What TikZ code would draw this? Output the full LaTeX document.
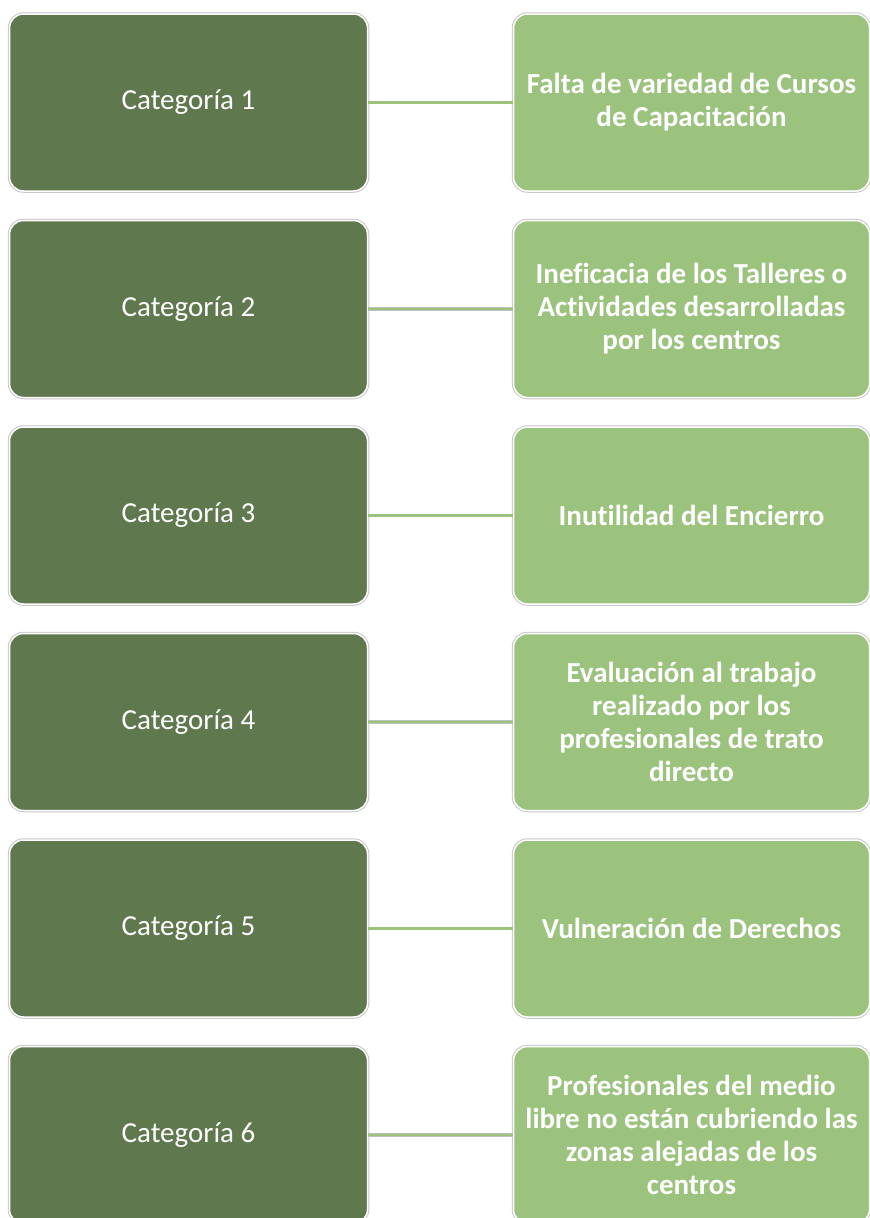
\documentclass[tikz,border=0pt]{standalone}
\usepackage{fontspec}
\setmainfont{Carlito}[Ligatures=NoCommon]
\definecolor{darkg}{HTML}{5F784E}
\definecolor{lightg}{HTML}{9BC37E}
\begin{document}
\begin{tikzpicture}[x=1pt,y=-1pt,
  box/.style={rounded corners=14pt, minimum height=177pt, text=white, align=center,
    draw=white, line width=1.5pt, inner sep=2pt,
    preaction={draw=black!22, line width=3.5pt}},
  catbox/.style={box, fill=darkg, minimum width=358pt, font=\fontsize{29}{33}\selectfont},
  resbox/.style={box, fill=lightg, minimum width=356pt, font=\fontsize{29}{33}\selectfont\bfseries},
  link/.style={draw=black!25, line width=0.6pt, double=lightg, double distance=2.4pt}]
\useasboundingbox (0,0) rectangle (870,1218);
\clip (0,0) rectangle (870,1218);
\node[catbox] (cat1) at (188.5,102.5) {Categoría 1};
\node[catbox] (cat2) at (188.5,309) {Categoría 2};
\node[catbox] (cat3) at (188.5,515.5) {Categoría 3};
\node[catbox] (cat4) at (188.5,722) {Categoría 4};
\node[catbox] (cat5) at (188.5,928.5) {Categoría 5};
\node[catbox] (cat6) at (188.5,1135) {Categoría 6};
\node[resbox] (res1) at (691.5,102.5) {Falta de variedad de Cursos\\de Capacitación};
\node[resbox] (res2) at (691.5,309) {Ineficacia de los Talleres o\\Actividades desarrolladas\\por los centros};
\node[resbox] (res3) at (691.5,515.5) {Inutilidad del Encierro};
\node[resbox] (res4) at (691.5,722) {Evaluación al trabajo\\realizado por los\\profesionales de trato\\directo};
\node[resbox] (res5) at (691.5,928.5) {Vulneración de Derechos};
\node[resbox] (res6) at (691.5,1135) {Profesionales del medio\\libre no están cubriendo las\\zonas alejadas de los\\centros};
\foreach \i in {1,...,6} {\draw[link] (cat\i) -- (res\i);}
\end{tikzpicture}
\end{document}
